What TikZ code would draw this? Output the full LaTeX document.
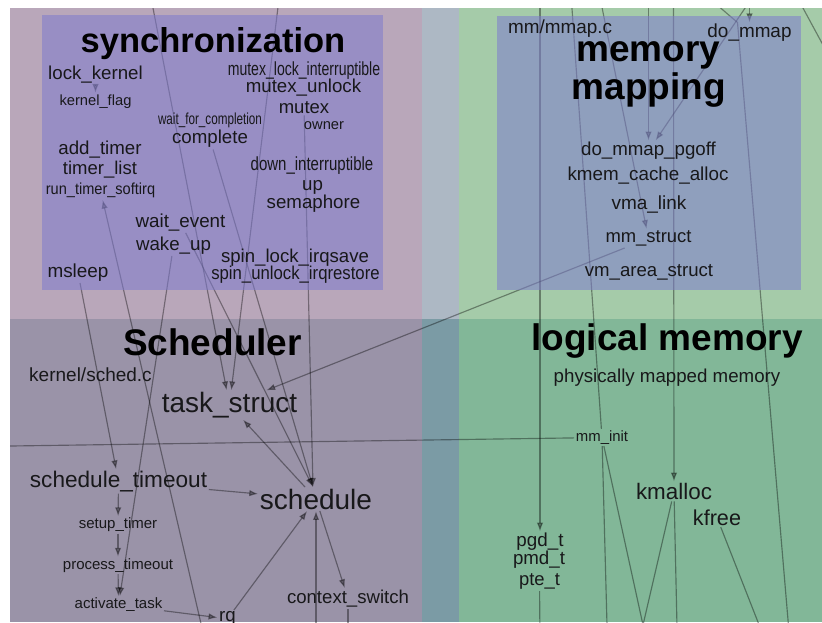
\documentclass[tikz,border=0pt]{standalone}
\usepackage{fontspec}
\setmainfont{Liberation Sans}
\usepackage{graphicx}
\usetikzlibrary{arrows.meta,calc}

% area colours
\definecolor{syncArea}{RGB}{185,167,186}
\definecolor{gapTop}{RGB}{173,184,196}
\definecolor{mmArea}{RGB}{165,203,169}
\definecolor{schedArea}{RGB}{154,147,168}
\definecolor{gapBottom}{RGB}{123,155,165}
\definecolor{logArea}{RGB}{130,183,152}
\definecolor{panel}{RGB}{126,123,206}
\definecolor{labelInk}{RGB}{24,24,26}

\pgfdeclarelayer{regions}
\pgfdeclarelayer{edges}
\pgfdeclarelayer{panels}
\pgfsetlayers{regions,edges,panels,main}

\tikzset{
  lab/.style={inner sep=1.5pt, text=labelInk},
  fs/.style={font=\fontsize{#1}{#1}\selectfont},
  ttl/.style={inner sep=0pt, text=black, font=\fontsize{#1}{#1}\selectfont\bfseries},
  conn/.style={draw=black, opacity=0.38, line width=1.15pt},
  conna/.style={conn, -{Latex[length=9pt,width=6.5pt]}},
}

\begin{document}
\begin{tikzpicture}[x=1pt,y=-1pt]
\useasboundingbox (0,0) rectangle (822,622);

% ---------- subsystem areas ----------
\begin{pgfonlayer}{regions}
  \fill[white] (0,0) rectangle (822,622);
  \fill[syncArea]  (10,8)   rectangle (422,319);
  \fill[gapTop]    (422,8)  rectangle (459,319);
  \fill[mmArea]    (459,8)  rectangle (822,319);
  \fill[schedArea] (10,319) rectangle (422,622);
  \fill[gapBottom] (422,319) rectangle (459,622);
  \fill[logArea]   (459,319) rectangle (822,622);
\end{pgfonlayer}

\begin{pgfonlayer}{panels}
  \fill[panel, fill opacity=0.55] (42,15) rectangle (383,290);
  \fill[panel, fill opacity=0.55] (497,16) rectangle (801,290);
\end{pgfonlayer}

% ---------- titles ----------
\node[ttl=34.5] (tSync)  at (213,43.5)   {synchronization};
\node[ttl=37]   (tSched) at (212.5,342.5) {Scheduler};
\node[ttl=37]   (tLog)   at (667,341)    {logical memory};
\node[ttl=37]   (tMem)   at (648.5,55)   {memory};
\node[ttl=37]   (tMap)   at (649,90)     {mapping};

% ---------- synchronization ----------
\node[lab,fs=18.7] (lockk)  at (95.5,74.5)  {lock\_kernel};
\node[lab,fs=14.7] (kflag)  at (95.5,101.5) {kernel\_flag};
\node[lab,fs=19]   (mli)    at (304,71)     {\scalebox{0.74}[1]{mutex\_lock\_interruptible}};
\node[lab,fs=18.7] (munl)   at (303.5,88)   {mutex\_unlock};
\node[lab,fs=18.5] (mutex)  at (304,107.5)  {mutex};
\node[lab,fs=14.7] (owner)  at (324,126)    {owner};
\node[lab,fs=16]   (wfc)    at (210,120.5)  {\scalebox{0.73}[1]{wait\_for\_completion}};
\node[lab,fs=18.7] (compl)  at (210,139)    {complete};
\node[lab,fs=18.7] (addt)   at (100,149.5)  {add\_timer};
\node[lab,fs=18.5] (tlist)  at (100,170)    {timer\_list};
\node[lab,fs=16]   (rts)    at (100.5,190.5){\scalebox{0.91}[1]{run\_timer\_softirq}};
\node[lab,fs=19]   (downi)  at (312,166)    {\scalebox{0.79}[1]{down\_interruptible}};
\node[lab,fs=18.7] (up)     at (312.5,187)  {up};
\node[lab,fs=18.7] (sema)   at (313.5,204)  {semaphore};
\node[lab,fs=18.8] (wev)    at (180.5,222.5){wait\_event};
\node[lab,fs=18.7] (wku)    at (173.5,245.5){wake\_up};
\node[lab,fs=18.6] (sli)    at (295,258)    {spin\_lock\_irqsave};
\node[lab,fs=18.6] (sui)    at (295.5,275)  {\scalebox{0.9}[1]{spin\_unlock\_irqrestore}};
\node[lab,fs=18.9] (msleep) at (78,272.5)   {msleep};

% ---------- memory mapping ----------
\node[lab,fs=18.9] (mmapc) at (560,28.5)   {mm/mmap.c};
\node[lab,fs=18.9] (domm)  at (749.5,33)   {do\_mmap};
\node[lab,fs=18.7] (dmp)   at (648.5,151)  {do\_mmap\_pgoff};
\node[lab,fs=18.8] (kca)   at (648,176)    {kmem\_cache\_alloc};
\node[lab,fs=19]   (vmal)  at (649,204.5)  {vma\_link};
\node[lab,fs=18.4] (mms)   at (648.5,238.5){mm\_struct};
\node[lab,fs=18.6] (vmas)  at (649,272.5)  {vm\_area\_struct};

% ---------- scheduler ----------
\node[lab,fs=19]   (ksc)   at (90.5,375)   {kernel/sched.c};
\node[lab,fs=28]   (tstr)  at (229.5,405)  {task\_struct};
\node[lab,fs=22.6] (sto)   at (118.5,481.5){schedule\_timeout};
\node[lab,fs=28]   (sched) at (316,499)    {schedule};
\node[lab,fs=15]   (sut)   at (118,525)    {setup\_timer};
\node[lab,fs=15]   (pto)   at (118,565.5)  {process\_timeout};
\node[lab,fs=15]   (act)   at (118.5,605)  {activate\_task};
\node[lab,fs=18.7] (rq)    at (227.5,618.8){rq};
\node[lab,fs=18.6] (cs)    at (348,598.5)  {context\_switch};

% ---------- logical memory ----------
\node[lab,fs=18.7] (pmm)    at (667,377.5) {physically mapped memory};
\node[lab,fs=14.9] (mminit) at (602,437.5) {mm\_init};
\node[lab,fs=22.4] (kmal)   at (674,491.5) {kmalloc};
\node[lab,fs=21.6] (kfree)  at (717,517.5) {kfree};
\node[lab,fs=18.8] (pgd)    at (540,542)   {pgd\_t};
\node[lab,fs=18.7] (pmd)    at (539,560)   {pmd\_t};
\node[lab,fs=18.4] (pte)    at (539.5,581.5){pte\_t};

% ---------- ends of calls leaving the visible part ----------
\coordinate (offL1)  at (147.6,-20);
\coordinate (offL2)  at (281.3,-20);
\coordinate (offRT)  at (204.8,640);
\coordinate (offSch) at (316,640);
\coordinate (offCS)  at (348,640);
\coordinate (offH)   at (-10,446.3);
\coordinate (offPG)  at (540,-20);
\coordinate (offPT)  at (540,640);
\coordinate (offMI)  at (570,-20);
\coordinate (offMS)  at (596.5,-20);
\coordinate (offDP)  at (648.5,-20);
\coordinate (offDP2) at (764,-20);
\coordinate (offDM)  at (749.5,-20);
\coordinate (offA)   at (688,-20);
\coordinate (offM7)  at (789.7,640);
\coordinate (offK)   at (673.5,-20);
\coordinate (offKb)  at (677.3,640);
\coordinate (offMV)  at (607.4,640);
\coordinate (offV)   at (643,625);
\coordinate (offKF)  at (765,640);
\coordinate (offC1)  at (787.8,-20);
\coordinate (offC2)  at (840,76.4);
\coordinate (schedTop) at ($(sched.north)+(-3,0)$);
\coordinate (mmknot)   at ($(domm.north)+(-12,0)$);

% ---------- call edges ----------
\begin{pgfonlayer}{edges}
\begin{scope}
  \clip (10,8) rectangle (822,622);
  \draw[conna] (lockk) -- (kflag);
  \draw[conna] (offL1) -- (tstr);
  \draw[conna] (offL2) -- (tstr);
  \draw[conna] (msleep) -- (sto);
  \draw[conna] (offRT) -- (rts);
  \draw[conna] (wku) -- (act);
  \draw[conna] (wev) -- (schedTop);
  \draw[conna] (compl) -- (schedTop);
  \draw[conna] (mutex) -- (schedTop);
  \draw[conna] (sched) -- (tstr);
  \draw[conna] (mms) -- (tstr);
  \draw[conna] (sto) -- (sched);
  \draw[conna] (sto) -- (sut);
  \draw[conna] (sut) -- (pto);
  \draw[conna] (pto) -- (act);
  \draw[conna] (act) -- (rq);
  \draw[conna] (rq) -- (sched);
  \draw[conna] (offSch) -- (sched);
  \draw[conna] (sched) -- (cs);
  \draw[conn]  (cs) -- (offCS);
  \draw[conn]  (offH) -- (mminit);
  \draw[conna] (offPG) -- (pgd);
  \draw[conn]  (pte) -- (offPT);
  \draw[conn]  (offMI) -- (mminit);
  \draw[conna] (offMS) -- (mms);
  \draw[conna] (offDP) -- (dmp);
  \draw[conna] (offDP2) -- (dmp);
  \draw[conna] (offDM) -- (domm);
  \draw[conn]  (offA) -- (mmknot) -- (offM7);
  \draw[conna] (offK) -- (kmal);
  \draw[conn]  (kmal) -- (offKb);
  \draw[conn]  (mminit) -- (offMV);
  \draw[conn]  (mminit) -- (offV);
  \draw[conn]  (kmal) -- (offV);
  \draw[conn]  (kfree) -- (offKF);
  \draw[conn]  (offC1) -- (offC2);
\end{scope}
\end{pgfonlayer}
\end{tikzpicture}
\end{document}
